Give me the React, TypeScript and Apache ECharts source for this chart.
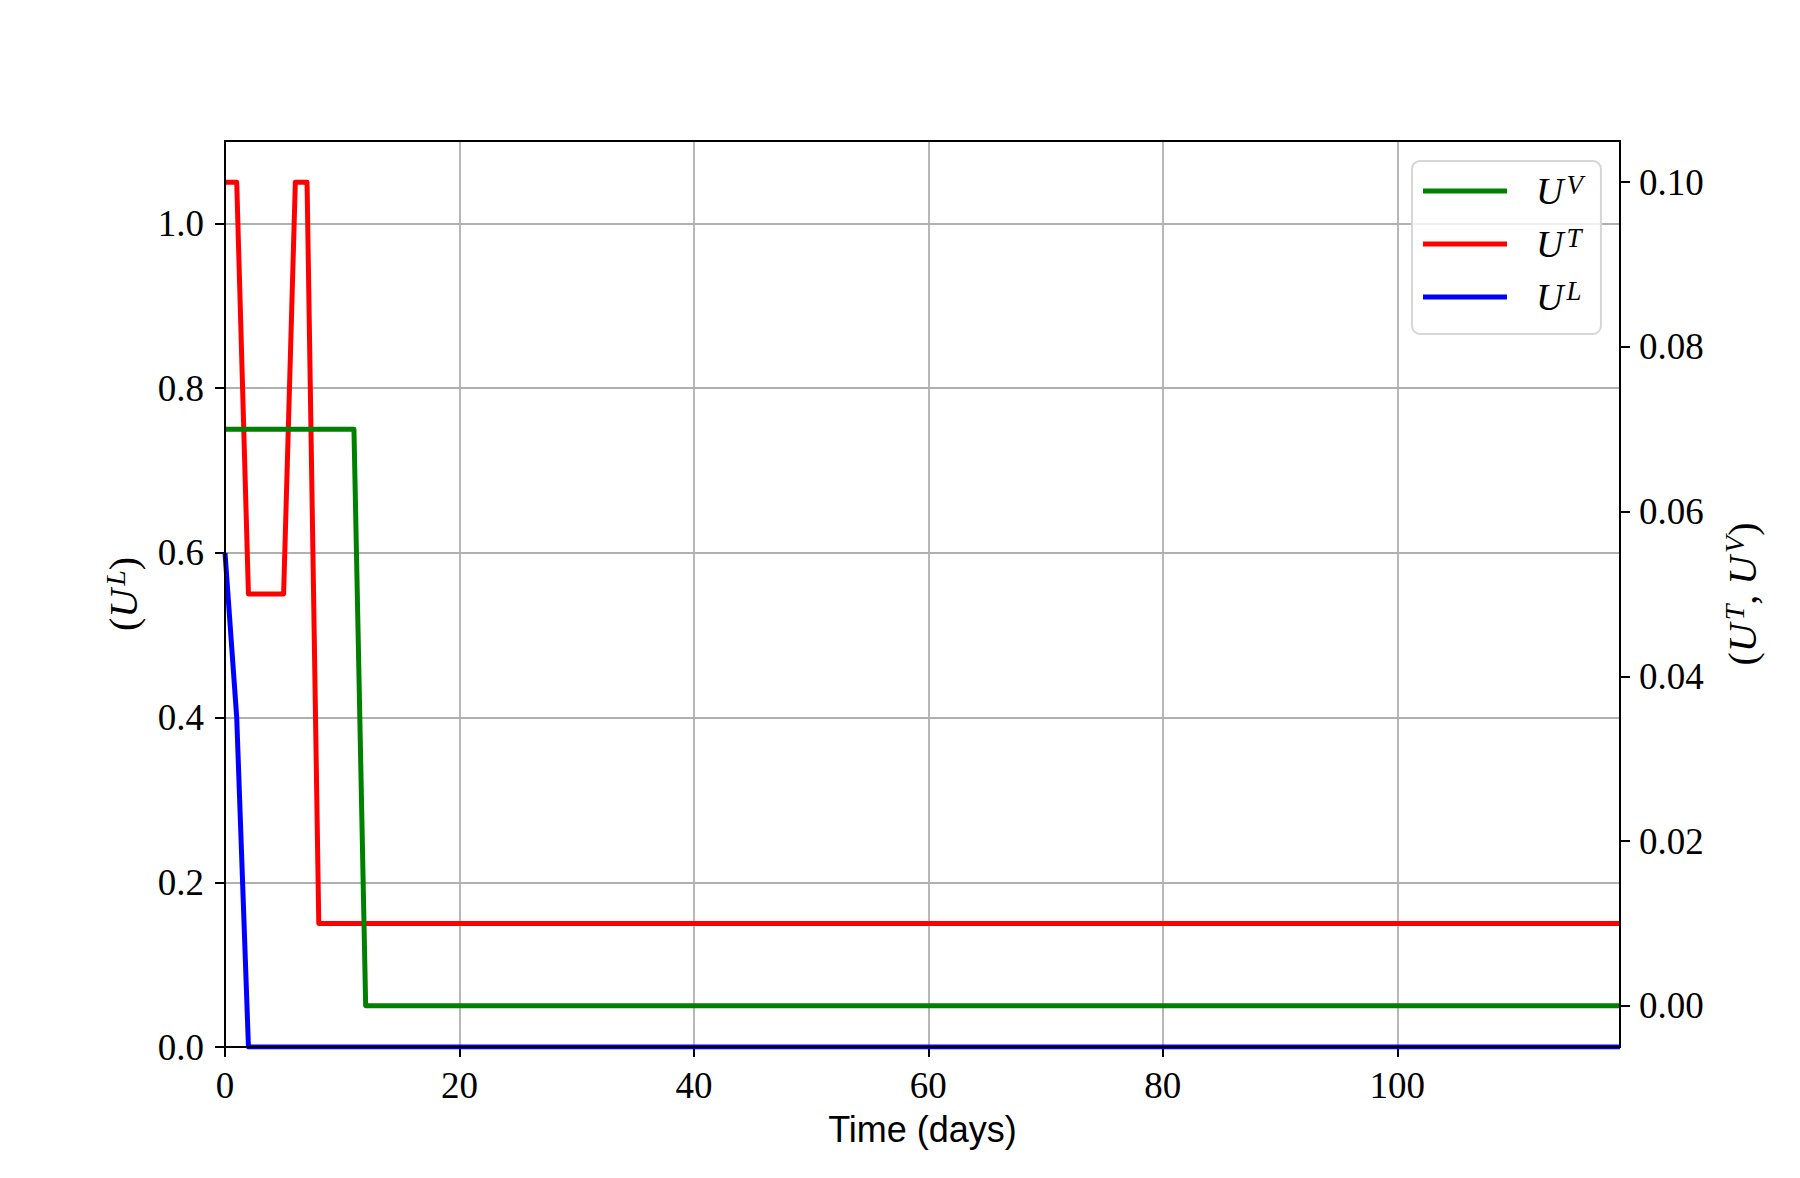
import React, { useEffect, useRef } from "react";
import * as echarts from "echarts";

// Breakpoints of the step-like controls (day, value)
const uvDays = [0, 11, 12, 119];
const uvValues = [0.07, 0.07, 0.0, 0.0];
const utDays = [0, 1, 2, 5, 6, 7, 8, 119];
const utValues = [0.1, 0.1, 0.05, 0.05, 0.1, 0.1, 0.01, 0.01];
const ulDays = [0, 1, 2, 119];
const ulValues = [0.6, 0.4, 0.0, 0.0];

const xTicks = [0, 20, 40, 60, 80, 100];
const leftTicks = [0, 0.2, 0.4, 0.6, 0.8, 1.0];
const rightTicks = [0, 0.02, 0.04, 0.06, 0.08, 0.1];

const seriesNames = ["U^V", "U^T", "U^L"];
const seriesColors = ["#008000", "#ff0000", "#0000ff"];

const SERIF = "'Liberation Serif', 'DejaVu Serif', serif";
const SANS = "'Liberation Sans', 'DejaVu Sans', sans-serif";

const nameRich = {
  r: { fontFamily: SERIF, fontSize: 40, lineHeight: 44, color: "#000" },
  i: { fontFamily: SERIF, fontStyle: "italic", fontSize: 40, lineHeight: 44, color: "#000" },
  s: { fontFamily: SERIF, fontStyle: "italic", fontSize: 28, lineHeight: 20, verticalAlign: "top", padding: [0, 0, 0, 3], color: "#000" },
};

const legendRich = {
  i: { fontFamily: SERIF, fontStyle: "italic", fontSize: 38, lineHeight: 40, padding: [0, 0, 0, 24], color: "#000" },
  s: { fontFamily: SERIF, fontStyle: "italic", fontSize: 27, lineHeight: 18, verticalAlign: "top", padding: [0, 0, 0, 3], color: "#000" },
};

function mathLabel(name: string): string {
  const [base, sup] = name.split("^");
  return `{i|${base}}{s|${sup}}`;
}

const tickStyle = { show: true, length: 10, lineStyle: { color: "#000", width: 2 } };
const gridLine = { show: true, lineStyle: { color: "#b0b0b0", width: 1.8 } };

export default function App() {
  const ref = useRef<HTMLDivElement>(null);
  useEffect(() => {
    if (!ref.current) return;
    const chart = echarts.init(ref.current, undefined, { renderer: "svg" });
    const toPairs = (xs: number[], ys: number[]) => xs.map((x, i) => [x, ys[i]]);
    const lineSeries = (idx: number, yAxisIndex: number, xs: number[], ys: number[], z: number) => ({
      name: seriesNames[idx],
      type: "line",
      yAxisIndex,
      data: toPairs(xs, ys),
      showSymbol: false,
      symbol: "none",
      color: seriesColors[idx],
      lineStyle: { color: seriesColors[idx], width: 5, join: "round" },
      z,
    });
    const option: any = {
      animation: false,
      backgroundColor: "#ffffff",
      grid: {
        left: 225,
        right: 180,
        top: 141,
        bottom: 131,
        show: true,
        borderColor: "#000",
        borderWidth: 2,
        backgroundColor: "transparent",
        z: 10,
        outerBoundsMode: "none",
      },
      legend: {
        orient: "vertical",
        left: 1412,
        top: 161,
        padding: [10, 18, 18, 11],
        itemGap: 14,
        itemWidth: 84,
        itemHeight: 5,
        itemTextGap: 5,
        icon: "rect",
        backgroundColor: "rgba(255,255,255,0.8)",
        borderColor: "#d6d6d6",
        borderWidth: 2,
        borderRadius: 8,
        z: 20,
        data: seriesNames,
        formatter: (name: string) => mathLabel(name),
        textStyle: { rich: legendRich },
      },
      xAxis: {
        type: "value",
        min: 0,
        max: 119,
        interval: 20,
        name: "Time (days)",
        nameLocation: "middle",
        nameGap: 64,
        nameTextStyle: { fontFamily: SANS, fontSize: 36, color: "#000" },
        axisLine: { show: false },
        axisTick: { ...tickStyle, customValues: xTicks },
        axisLabel: {
          customValues: xTicks,
          margin: 20,
          fontFamily: SERIF,
          fontSize: 37,
          color: "#000",
          formatter: (v: number) => String(v),
        },
        splitLine: gridLine,
      },
      yAxis: [
        {
          type: "value",
          position: "left",
          min: 0,
          max: 1.1,
          interval: 0.2,
          name: "{r|(}{i|U}{s|L}{r|)}",
          nameLocation: "middle",
          nameRotate: 90,
          nameGap: 80,
          nameTextStyle: { rich: nameRich },
          axisLine: { show: false },
          axisTick: { ...tickStyle, customValues: leftTicks },
          axisLabel: {
            customValues: leftTicks,
            margin: 21,
            fontFamily: SERIF,
            fontSize: 37,
            color: "#000",
            formatter: (v: number) => v.toFixed(1),
          },
          splitLine: gridLine,
        },
        {
          type: "value",
          position: "right",
          min: -0.005,
          max: 0.105,
          name: "{r|(}{i|U}{s|T}{r|, }{i|U}{s|V}{r|)}",
          nameLocation: "middle",
          nameRotate: 90,
          nameGap: 100,
          nameTextStyle: { rich: nameRich },
          axisLine: { show: false },
          axisTick: { ...tickStyle, customValues: rightTicks },
          axisLabel: {
            customValues: rightTicks,
            margin: 19,
            fontFamily: SERIF,
            fontSize: 37,
            color: "#000",
            formatter: (v: number) => v.toFixed(2),
          },
          splitLine: { show: false },
        },
      ],
      series: [
        lineSeries(0, 1, uvDays, uvValues, 5),
        lineSeries(1, 1, utDays, utValues, 4),
        lineSeries(2, 0, ulDays, ulValues, 3),
      ],
    };
    chart.setOption(option);
    return () => chart.dispose();
  }, []);
  return (
    <div
      ref={ref}
      style={{ position: "fixed", left: 0, top: 0, width: 1800, height: 1178, background: "#fff" }}
    />
  );
}
